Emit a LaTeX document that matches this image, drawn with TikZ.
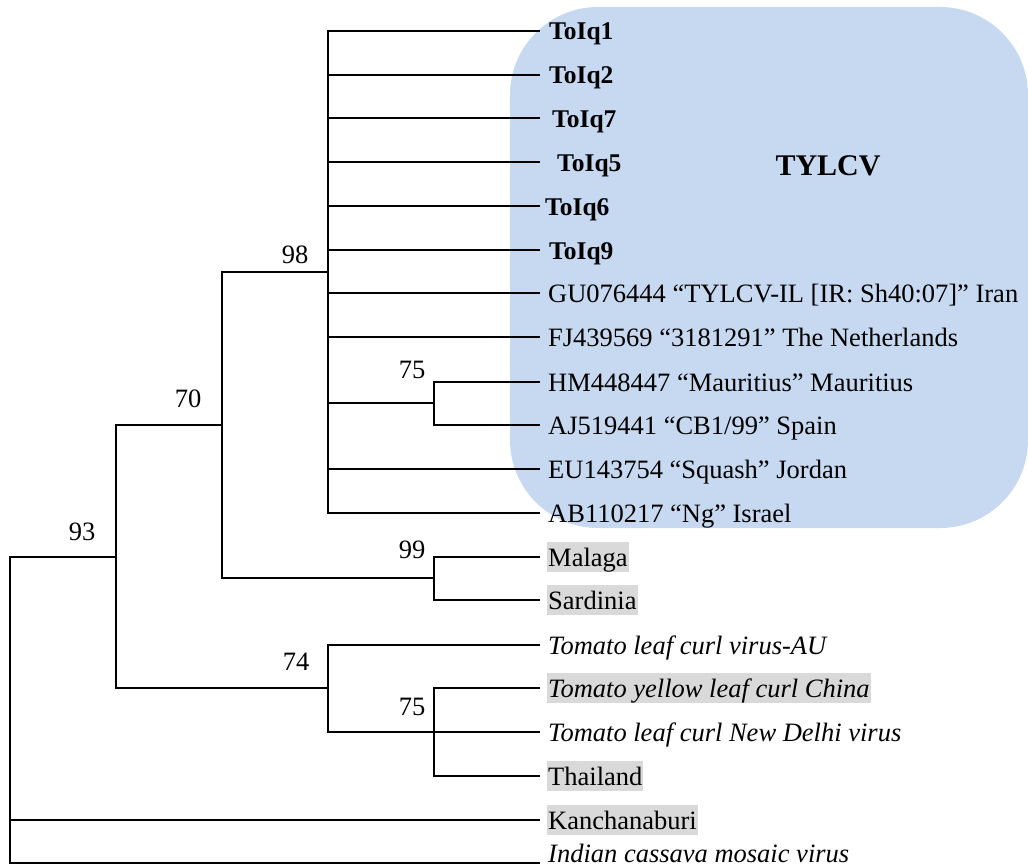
\documentclass[tikz,border=0pt]{standalone}
\usepackage{fontspec}
\setmainfont{Liberation Serif}
\definecolor{boxblue}{RGB}{198,217,240}
\definecolor{hlgrey}{RGB}{217,217,217}
\begin{document}
\begin{tikzpicture}[x=1pt,y=-1pt,
  br/.style={line width=1.3pt},
  leaf/.style={anchor=west, inner xsep=1pt, inner ysep=0pt, text height=24pt, text depth=6pt, font=\fontsize{26.5}{30}\selectfont},
  hl/.style={leaf, fill=hlgrey},
  bleaf/.style={leaf, font=\bfseries\fontsize{25.5}{28}\selectfont},
  boot/.style={anchor=base, inner sep=0pt, font=\fontsize{26.5}{30}\selectfont}]
\useasboundingbox (0,0) rectangle (1028,867);
\fill[boxblue, rounded corners=88pt] (510,7) rectangle (1028,528);
\node[anchor=base, inner sep=0pt, font=\bfseries\fontsize{30}{33}\selectfont] (clade) at (828,175) {TYLCV};
% tips
\coordinate (t1) at (540,31);
\coordinate (t2) at (540,75);
\coordinate (t3) at (540,118);
\coordinate (t4) at (540,162);
\coordinate (t5) at (540,206);
\coordinate (t6) at (540,250);
\coordinate (t7) at (540,293);
\coordinate (t8) at (540,337);
\coordinate (t9) at (540,382);
\coordinate (t10) at (540,425);
\coordinate (t11) at (540,469);
\coordinate (t12) at (540,513);
\coordinate (t13) at (540,557);
\coordinate (t14) at (540,600);
\coordinate (t15) at (540,645);
\coordinate (t16) at (540,688);
\coordinate (t17) at (540,732);
\coordinate (t18) at (540,776);
\coordinate (t19) at (540,820);
\coordinate (t20) at (540,863);
% internal nodes
\coordinate (n98) at (328,272);
\coordinate (n75a) at (434,403);
\coordinate (n99) at (434,578);
\coordinate (n70) at (222,425);
\coordinate (n74) at (328,688);
\coordinate (n75b) at (434,732);
\coordinate (n93) at (116,557);
\coordinate (root) at (10,820);
% leaves
\node[bleaf] (l1) at (548,31) {ToIq1};
\node[bleaf] (l2) at (548,75) {ToIq2};
\node[bleaf] (l3) at (551,118) {ToIq7};
\node[bleaf] (l4) at (556,162) {ToIq5};
\node[bleaf] (l5) at (544,206) {ToIq6};
\node[bleaf] (l6) at (548,250) {ToIq9};
\node[leaf] (l7) at (547,293) {GU076444 “TYLCV-IL [IR: Sh40:07]” Iran};
\node[leaf] (l8) at (547,337) {FJ439569 “3181291” The Netherlands};
\node[leaf] (l9) at (547,382) {HM448447 “Mauritius” Mauritius};
\node[leaf] (l10) at (547,425) {AJ519441 “CB1/99” Spain};
\node[leaf] (l11) at (547,469) {EU143754 “Squash” Jordan};
\node[leaf] (l12) at (547,513) {AB110217 “Ng” Israel};
\node[hl] (l13) at (547,557) {Malaga};
\node[hl] (l14) at (547,600) {Sardinia};
\node[leaf] (l15) at (547,645) {\itshape Tomato leaf curl virus-AU};
\node[hl] (l16) at (547,688) {\itshape Tomato yellow leaf curl China};
\node[leaf] (l17) at (547,732) {\itshape Tomato leaf curl New Delhi virus};
\node[hl] (l18) at (547,776) {Thailand};
\node[hl] (l19) at (547,820) {Kanchanaburi};
\node[leaf, anchor=base west, text depth=0pt] (l20) at (547,862) {\itshape Indian cassava mosaic virus};
% branches
\foreach \t in {t1,t2,t3,t4,t5,t6,t7,t8,t11,t12} \draw[br] (n98) |- (\t);
\draw[br] (n98) |- (n75a);
\draw[br] (n75a) |- (t9);
\draw[br] (n75a) |- (t10);
\draw[br] (n99) |- (t13);
\draw[br] (n99) |- (t14);
\draw[br] (n70) |- (n98);
\draw[br] (n70) |- (n99);
\draw[br] (n74) |- (t15);
\draw[br] (n74) |- (t17);
\draw[br] (n75b) |- (t16);
\draw[br] (n75b) |- (t18);
\draw[br] (n93) |- (n70);
\draw[br] (n93) |- (n74);
\draw[br] (root) |- (n93);
\draw[br] (root) -- (t19);
\draw[br] (root) |- (t20);
% bootstrap values
\node[boot] (b98) at (295,263) {98};
\node[boot] (b75a) at (412,378) {75};
\node[boot] (b99) at (412,558) {99};
\node[boot] (b70) at (188,407) {70};
\node[boot] (b93) at (82,540) {93};
\node[boot] (b74) at (296,670) {74};
\node[boot] (b75b) at (412,715) {75};
\end{tikzpicture}
\end{document}
